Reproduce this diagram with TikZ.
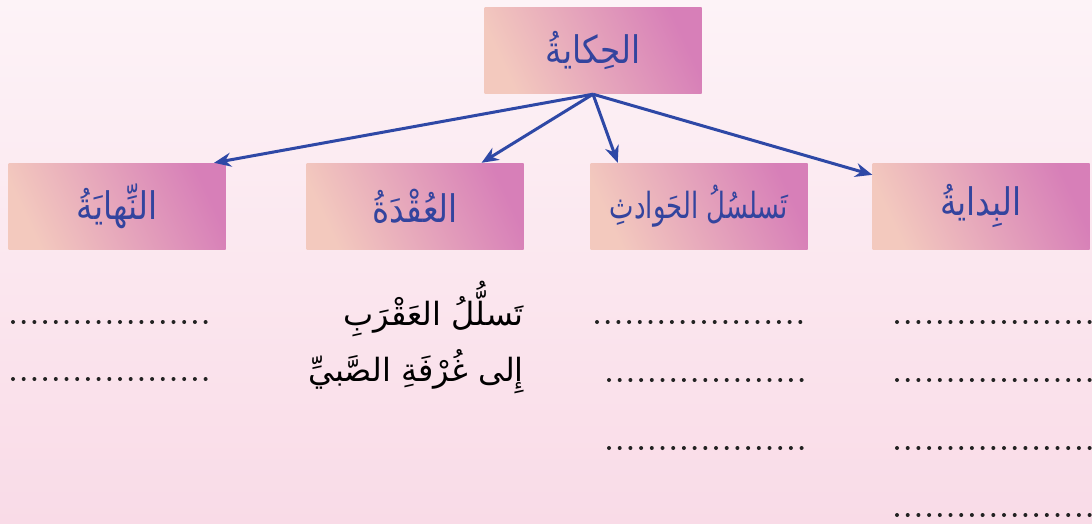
\documentclass[tikz,border=0pt]{standalone}
\usepackage{fontspec}
\newfontfamily\arabicfont[Script=Arabic]{DejaVu Sans}
\newfontfamily\arabicnarrow[Script=Arabic,FakeStretch=0.86]{DejaVu Sans}
\newfontfamily\arabictight[Script=Arabic,FakeStretch=0.72]{DejaVu Sans}
\TeXXeTstate=1
\usetikzlibrary{arrows.meta}

\definecolor{boxpeach}{HTML}{F3C9BE}
\definecolor{boxpink}{HTML}{E9A6C4}
\definecolor{boxmagenta}{HTML}{D77FB8}
\definecolor{labelblue}{HTML}{33449E}
\definecolor{linkblue}{HTML}{2E48A6}
\definecolor{dotgray}{HTML}{222222}
\definecolor{bgtop}{HTML}{FDF3F7}
\definecolor{bgbottom}{HTML}{F9DBE7}

\newcommand{\artext}[1]{\beginR#1\endR}

\tikzset{
  topic/.style={minimum width=217pt,minimum height=86pt,inner sep=0pt,
    left color=boxpeach,middle color=boxpink,right color=boxmagenta,shading angle=115,
    text=labelblue,font=\arabicnarrow\fontsize{38}{44}\selectfont},
  link/.style={->,draw=linkblue,line width=3pt},
  note/.style={anchor=east,inner sep=0pt,font=\arabicfont\fontsize{32}{38}\selectfont}
}

\begin{document}
\begin{tikzpicture}[x=1pt,y=-1pt,>={Stealth[length=17pt,width=14pt]}]

\shade[top color=bgtop,bottom color=bgbottom] (0,0) rectangle (1092,524);
\useasboundingbox (0,0) rectangle (1092,524);

\node[topic] (hikaya) at (593,51) {\artext{الحِكايةُ}};

\node[topic] (nihaya) at (117,206) {\artext{النِّهايَةُ}};
\node[topic] (uqda) at (415,206) {\artext{العُقْدَةُ}};
\node[topic,font=\arabictight\fontsize{36}{44}\selectfont] (tasalsul) at (699,206) {\artext{تَسلسُلُ الحَوادثِ}};
\node[topic] (bidaya) at (981,206) {\artext{البِدايةُ}};

\draw[link] (hikaya.south) -- (nihaya.24);
\draw[link] (hikaya.south) -- (uqda.33);
\draw[link] (hikaya.south) -- (tasalsul.152);
\draw[link] (hikaya.south) -- (bidaya.164);

\node[note] (line1) at (524,309) {\artext{تَسلُّلُ العَقْرَبِ}};
\node[note] (line2) at (524,372) {\artext{إِلى غُرْفَةِ الصَّبيِّ}};

% dotted answer lines
\foreach \y in {322,379}{
  \foreach \i in {0,...,18} \fill[dotgray] (13+\i*10.7,\y) circle[radius=2pt];
}
\foreach \i in {0,...,19} \fill[dotgray] (597+\i*10.7,322) circle[radius=2pt];
\foreach \y in {380,448}{
  \foreach \i in {0,...,18} \fill[dotgray] (609+\i*10.7,\y) circle[radius=2pt];
}
\foreach \y in {322,380,448,515}{
  \foreach \i in {0,...,18} \fill[dotgray] (897+\i*10.7,\y) circle[radius=2pt];
}

\end{tikzpicture}
\end{document}
